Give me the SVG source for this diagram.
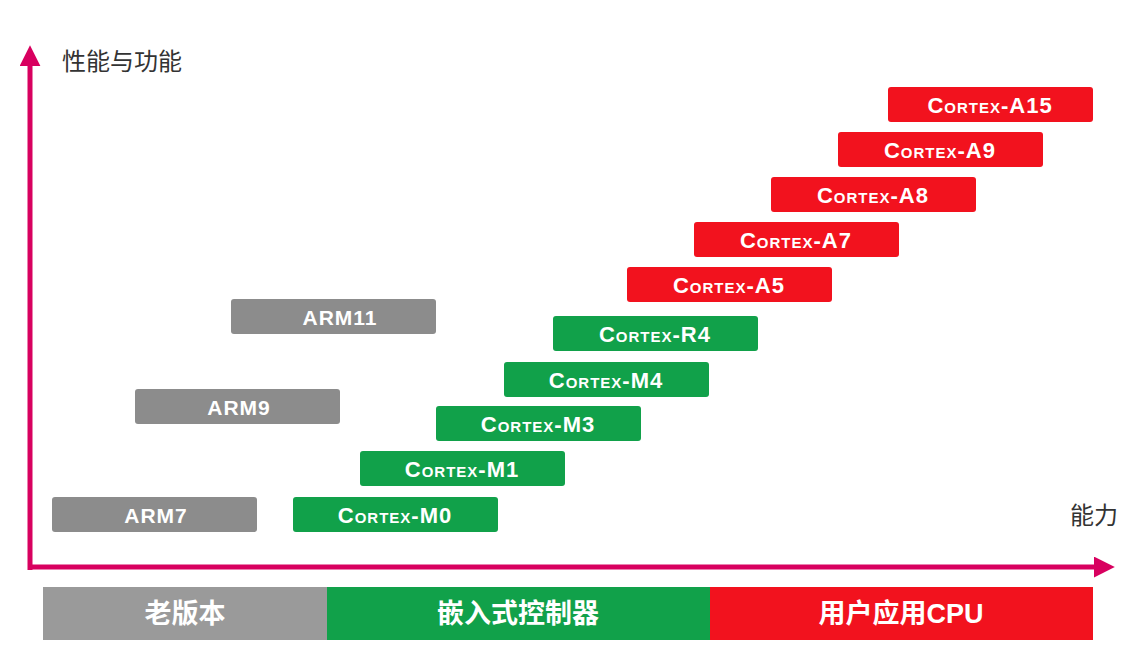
<svg xmlns="http://www.w3.org/2000/svg" width="1132" height="671" viewBox="0 0 1132 671">
<style>
.b{stroke:none}
.r{fill:#f2121e}.g{fill:#11a14a}.k{fill:#8c8c8c}
.t{font-family:"Liberation Sans","DejaVu Sans",sans-serif;font-weight:bold;font-size:22px;font-variant:small-caps;fill:#fff;text-anchor:middle;letter-spacing:1px}
.a{font-family:"Liberation Sans","DejaVu Sans",sans-serif;font-weight:bold;font-size:21px;fill:#fff;text-anchor:middle;letter-spacing:1px}
.lab{font-family:"Noto Sans CJK SC",sans-serif;font-size:24px;fill:#333}
.bar{font-family:"Liberation Sans","Noto Sans CJK SC",sans-serif;font-weight:bold;font-size:27px;fill:#fff;text-anchor:middle}
</style>
<defs>
<marker id="ah" viewBox="0 0 10 10" refX="2" refY="5" markerWidth="4.2" markerHeight="4.2" orient="auto"><path d="M0,0L10,5L0,10z" fill="#d8005f"/></marker>
</defs>
<g id="connectors">
<line x1="30" y1="570" x2="30" y2="62" stroke="#d8005f" stroke-width="5" marker-end="url(#ah)"/>
<line x1="28" y1="567" x2="1098" y2="567" stroke="#d8005f" stroke-width="5" marker-end="url(#ah)"/>
</g>
<text id="ylabel" class="lab" x="62" y="70">性能与功能</text>
<text id="xlabel" class="lab" x="1070" y="524">能力</text>
<g id="a15"><rect class="r" x="888" y="87" width="205" height="35" rx="3"/><text class="t" x="990" y="113">Cortex-A15</text></g>
<g id="a9"><rect class="r" x="838" y="132" width="205" height="35" rx="3"/><text class="t" x="940" y="158">Cortex-A9</text></g>
<g id="a8"><rect class="r" x="771" y="177" width="205" height="35" rx="3"/><text class="t" x="873" y="203">Cortex-A8</text></g>
<g id="a7"><rect class="r" x="694" y="222" width="205" height="35" rx="3"/><text class="t" x="796" y="248">Cortex-A7</text></g>
<g id="a5"><rect class="r" x="627" y="267" width="205" height="35" rx="3"/><text class="t" x="729" y="293">Cortex-A5</text></g>
<g id="r4"><rect class="g" x="553" y="316" width="205" height="35" rx="3"/><text class="t" x="655" y="342">Cortex-R4</text></g>
<g id="m4"><rect class="g" x="504" y="362" width="205" height="35" rx="3"/><text class="t" x="606" y="388">Cortex-M4</text></g>
<g id="m3"><rect class="g" x="436" y="406" width="205" height="35" rx="3"/><text class="t" x="538" y="432">Cortex-M3</text></g>
<g id="m1"><rect class="g" x="360" y="451" width="205" height="35" rx="3"/><text class="t" x="462" y="477">Cortex-M1</text></g>
<g id="m0"><rect class="g" x="293" y="497" width="205" height="35" rx="3"/><text class="t" x="395" y="523">Cortex-M0</text></g>
<g id="arm11"><rect class="k" x="231" y="299" width="205" height="35" rx="3"/><text class="a" x="340" y="325">ARM11</text></g>
<g id="arm9"><rect class="k" x="135" y="389" width="205" height="35" rx="3"/><text class="a" x="239" y="415">ARM9</text></g>
<g id="arm7"><rect class="k" x="52" y="497" width="205" height="35" rx="3"/><text class="a" x="156" y="523">ARM7</text></g>
<g id="old"><rect fill="#9a9a9a" x="43" y="587" width="284" height="53"/><text class="bar" x="185" y="623">老版本</text></g>
<g id="embedded"><rect fill="#11a14a" x="327" y="587" width="383" height="53"/><text class="bar" x="518" y="623">嵌入式控制器</text></g>
<g id="app"><rect fill="#f2121e" x="710" y="587" width="383" height="53"/><text class="bar" x="901" y="623">用户应用CPU</text></g>
</svg>
